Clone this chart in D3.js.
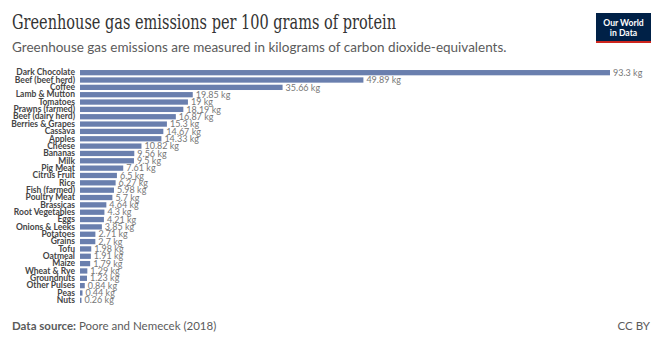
<!DOCTYPE html>
<html>
<head>
<meta charset="utf-8">
<script src="https://cdn.jsdelivr.net/npm/d3@7"></script>
<style>
  html, body { margin: 0; padding: 0; background: #fff; }
  svg { display: block; }
</style>
</head>
<body>
<svg id="chart" width="663" height="347"></svg>
<script>
const foods = [
  "Dark Chocolate", "Beef (beef herd)", "Coffee", "Lamb & Mutton", "Tomatoes",
  "Prawns (farmed)", "Beef (dairy herd)", "Berries & Grapes", "Cassava", "Apples",
  "Cheese", "Bananas", "Milk", "Pig Meat", "Citrus Fruit", "Rice", "Fish (farmed)",
  "Poultry Meat", "Brassicas", "Root Vegetables", "Eggs", "Onions & Leeks",
  "Potatoes", "Grains", "Tofu", "Oatmeal", "Maize", "Wheat & Rye", "Groundnuts",
  "Other Pulses", "Peas", "Nuts"
];
const emissions = [
  93.3, 49.89, 35.66, 19.85, 19, 18.19, 16.87, 15.3, 14.67, 14.33,
  10.82, 9.56, 9.5, 7.61, 6.5, 6.27, 5.98, 5.7, 4.64, 4.3, 4.21, 3.85,
  2.71, 2.7, 1.98, 1.91, 1.79, 1.29, 1.23, 0.84, 0.44, 0.26
];
const unit = "kg";

const svg = d3.select("#chart");
const barColor = "#6a7fae";

const x = d3.scaleLinear().domain([0, d3.max(emissions)]).range([80, 610]);
const y = d3.scaleBand().domain(foods).range([69, 304]).paddingInner(0.28).paddingOuter(0.14);

const rows = foods.map((f, i) => ({ food: f, value: emissions[i] }));

// Title block
svg.append("text")
  .attr("x", 12).attr("y", 29)
  .attr("font-family", "'DejaVu Serif', 'Liberation Serif', serif")
  .attr("font-size", 19.5)
  .attr("fill", "#333")
  .attr("textLength", 384)
  .attr("lengthAdjust", "spacingAndGlyphs")
  .text("Greenhouse gas emissions per 100 grams of protein");

svg.append("text")
  .attr("x", 12).attr("y", 52)
  .attr("font-family", "Lato, sans-serif")
  .attr("font-size", 13.5)
  .attr("fill", "#5b5b5b")
  .text("Greenhouse gas emissions are measured in kilograms of carbon dioxide-equivalents.");

// Logo
const logo = svg.append("g").attr("transform", "translate(596,13)");
logo.append("rect").attr("width", 55).attr("height", 30).attr("fill", "#002147");
logo.append("rect").attr("y", 28).attr("width", 55).attr("height", 2).attr("fill", "#ce261e");
logo.append("text").attr("x", 27.5).attr("y", 12.5).attr("text-anchor", "middle")
  .attr("font-family", "Lato, sans-serif").attr("font-size", 8.6).attr("font-weight", 700)
  .attr("fill", "#fff").text("Our World");
logo.append("text").attr("x", 27.5).attr("y", 23).attr("text-anchor", "middle")
  .attr("font-family", "Lato, sans-serif").attr("font-size", 8.6).attr("font-weight", 700)
  .attr("fill", "#fff").text("in Data");

// Bars
const plot = svg.append("g");
plot.selectAll("rect.bar").data(rows).join("rect")
  .attr("class", "bar")
  .attr("x", x(0))
  .attr("y", d => y(d.food))
  .attr("width", d => x(d.value) - x(0))
  .attr("height", y.bandwidth())
  .attr("fill", barColor);

// Category axis
const yAxis = d3.axisLeft(y).tickSize(0).tickPadding(3);
const gy = svg.append("g").attr("transform", `translate(${x(0) - 2},0)`).call(yAxis);
gy.select(".domain").remove();
gy.selectAll("text")
  .attr("font-family", "Lato, sans-serif")
  .attr("font-size", 8.5)
  .attr("font-weight", 700)
  .attr("fill", "#444");

// Value labels
plot.selectAll("text.val").data(rows).join("text")
  .attr("class", "val")
  .attr("x", d => x(d.value) + 3)
  .attr("y", d => y(d.food) + y.bandwidth() / 2)
  .attr("dy", "0.35em")
  .attr("font-family", "Lato, sans-serif")
  .attr("font-size", 9)
  .attr("fill", "#777")
  .text(d => `${d.value} ${unit}`);

// Footer
const foot = svg.append("text").attr("x", 12).attr("y", 330)
  .attr("font-family", "Lato, sans-serif").attr("font-size", 11.5).attr("fill", "#5b5b5b");
foot.append("tspan").attr("font-weight", 700).text("Data source: ");
foot.append("tspan").text("Poore and Nemecek (2018)");

svg.append("text").attr("x", 650).attr("y", 330).attr("text-anchor", "end")
  .attr("font-family", "Lato, sans-serif").attr("font-size", 11.5).attr("fill", "#5b5b5b")
  .text("CC BY");
</script>
</body>
</html>
